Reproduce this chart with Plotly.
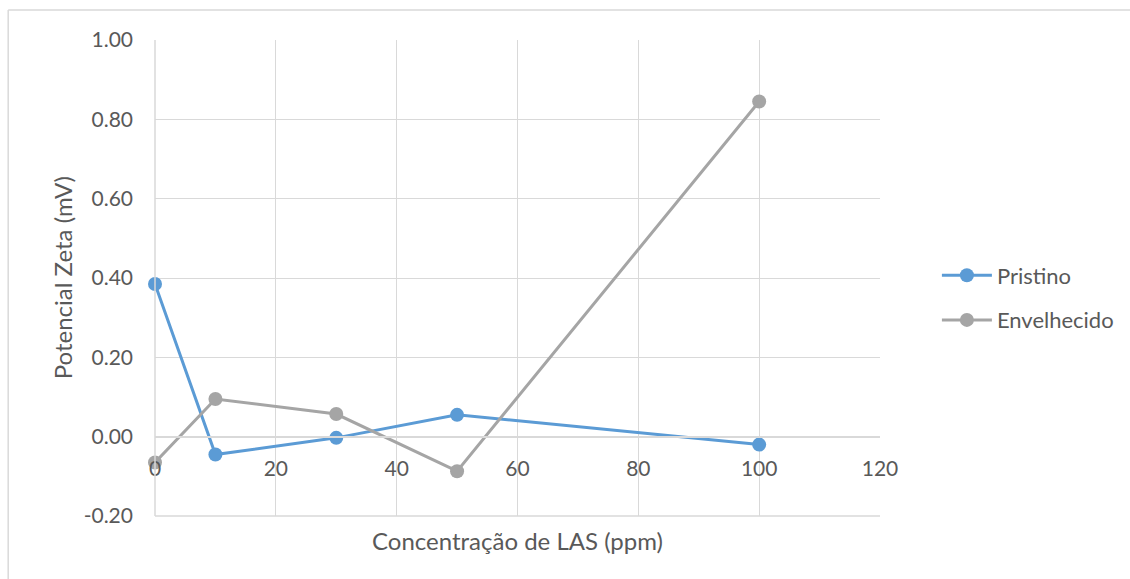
import plotly.graph_objects as go

x_vals = [0, 10, 30, 50, 100]
pristino = [0.385, -0.045, -0.003, 0.055, -0.020]
envelhecido = [-0.065, 0.095, 0.057, -0.087, 0.845]
series_names = ["Pristino", "Envelhecido"]
colors = ["#5B9BD5", "#A5A5A5"]
y_tick_vals = [-0.2, 0.0, 0.2, 0.4, 0.6, 0.8, 1.0]
y_tick_labels = ["-0.20", "0.00", "0.20", "0.40", "0.60", "0.80", "1.00"]

FONT = "Lato, 'Liberation Sans', sans-serif"
TXT = "#595959"
GRID = "#D9D9D9"

fig = go.Figure()
for name, ys, c in zip(series_names, [pristino, envelhecido], colors):
    fig.add_trace(go.Scatter(
        x=x_vals, y=ys, name=name, mode="lines+markers", legendgroup=name,
        line=dict(color=c, width=3),
        marker=dict(color=c, size=14),
        cliponaxis=False,
    ))

fig.update_layout(
    width=1130, height=579,
    margin=dict(l=155, r=249, t=40, b=63),
    paper_bgcolor="white", plot_bgcolor="white",
    font=dict(family=FONT, color=TXT, size=20),
    showlegend=True,
    legend=dict(x=1.077, y=0.458, xanchor="left", yanchor="middle",
                font=dict(size=22, color=TXT), tracegroupgap=13,
                itemwidth=50, bgcolor="rgba(0,0,0,0)"),
    xaxis=dict(range=[0, 120], dtick=20, tick0=0, showgrid=True, gridcolor=GRID, gridwidth=1,
               zeroline=False, showline=True, linecolor=GRID, linewidth=1.5,
               anchor="free", position=1/6, ticks="", tickfont=dict(size=21, color=TXT),
               ticklabelstandoff=13),
    yaxis=dict(range=[-0.2, 1.0], tickmode="array", tickvals=y_tick_vals, ticktext=y_tick_labels,
               showgrid=True, gridcolor=GRID, gridwidth=1, zeroline=False,
               showline=False, ticks="", tickfont=dict(size=21, color=TXT),
               ticklabelstandoff=21),
    annotations=[
        dict(text="Concentração de LAS (ppm)", xref="paper", yref="paper",
             x=0.5, y=-0.0525, xanchor="center", yanchor="middle", showarrow=False,
             font=dict(size=24, color=TXT)),
        dict(text="Potencial Zeta (mV)", xref="paper", yref="paper",
             x=-0.128, y=0.5, xanchor="center", yanchor="middle", showarrow=False,
             textangle=-90, font=dict(size=24, color=TXT)),
    ],
    shapes=[
        dict(type="line", xref="paper", yref="paper", x0=0, x1=0, y0=0, y1=1,
             line=dict(color=GRID, width=1.5)),
        dict(type="line", xref="paper", yref="paper", x0=0, x1=1, y0=0, y1=0,
             line=dict(color=GRID, width=1.5)),
        dict(type="line", xref="paper", yref="paper", x0=-0.2025, x1=1.36, y0=1.063, y1=1.063,
             line=dict(color=GRID, width=1.5)),
        dict(type="line", xref="paper", yref="paper", x0=-0.2025, x1=-0.2025, y0=1.063, y1=-0.16,
             line=dict(color=GRID, width=1.5)),
    ],
)

fig.write_html("out.html")
